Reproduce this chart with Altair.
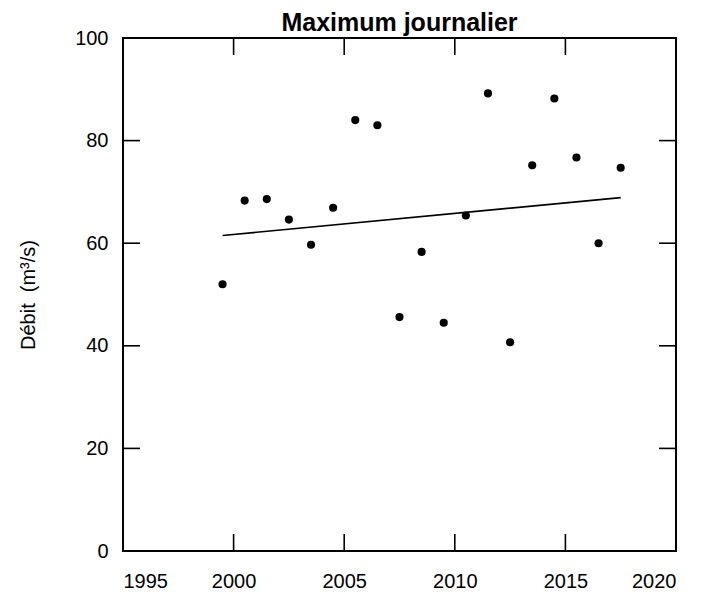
import altair as alt
import pandas as pd

# Data
title_text = ["Maximum journalier"]
years = [1999.5, 2000.5, 2001.5, 2002.5, 2003.5, 2004.5, 2005.5, 2006.5, 2007.5,
         2008.5, 2009.5, 2010.5, 2011.5, 2012.5, 2013.5, 2014.5, 2015.5, 2016.5, 2017.5]
debit = [52.0, 68.3, 68.6, 64.6, 59.7, 66.9, 84.0, 83.0, 45.6,
         58.3, 44.5, 65.4, 89.2, 40.7, 75.2, 88.2, 76.7, 60.0, 74.7]
trend_x = [1999.5, 2017.5]
trend_y = [61.5, 68.9]
x_ticks = [1995, 2000, 2005, 2010, 2015, 2020]
y_ticks = [0, 20, 40, 60, 80, 100]
x_inner_ticks = [2000, 2005, 2010, 2015]
y_inner_ticks = [20, 40, 60, 80]

W, H = 553, 513
FONT = "Liberation Sans"
TICK = 17

pts = pd.DataFrame({"x": years, "y": debit})
trend = pd.DataFrame({"x": trend_x, "y": trend_y})
xt = pd.DataFrame({"x": x_inner_ticks})
yt = pd.DataFrame({"y": y_inner_ticks})
tt = pd.DataFrame({"t": title_text})

x_enc = alt.X("x:Q", scale=alt.Scale(domain=[1995, 2020], nice=False, zero=False),
              axis=alt.Axis(values=x_ticks, format="d", ticks=False, domain=False, grid=False,
                            labelPadding=20, title=None))
y_enc = alt.Y("y:Q", scale=alt.Scale(domain=[0, 100], nice=False),
              axis=alt.Axis(values=y_ticks, ticks=False, domain=False, grid=False,
                            labelPadding=15, title="Débit\u00a0 (m³/s)", titlePadding=36))

points = alt.Chart(pts).mark_circle(size=66, color="black", opacity=1).encode(x=x_enc, y=y_enc)
line = alt.Chart(trend).mark_line(color="black", strokeWidth=1.7).encode(x=x_enc, y=y_enc)

bottom_ticks = alt.Chart(xt).mark_rule(color="black", strokeWidth=1.6).encode(
    x=x_enc, y=alt.value(H), y2=alt.value(H - TICK))
top_ticks = alt.Chart(xt).mark_rule(color="black", strokeWidth=1.6).encode(
    x=x_enc, y=alt.value(0), y2=alt.value(TICK))
left_ticks = alt.Chart(yt).mark_rule(color="black", strokeWidth=1.6).encode(
    y=y_enc, x=alt.value(0), x2=alt.value(TICK))
right_ticks = alt.Chart(yt).mark_rule(color="black", strokeWidth=1.6).encode(
    y=y_enc, x=alt.value(W), x2=alt.value(W - TICK))

title = alt.Chart(tt).mark_text(font=FONT, fontSize=25, fontWeight="bold", color="black",
                                align="center", baseline="alphabetic").encode(
    text="t:N", x=alt.value(W / 2), y=alt.value(-7))

chart = alt.layer(bottom_ticks, top_ticks, left_ticks, right_ticks, line, points, title).properties(
    width=W, height=H,
    autosize=alt.AutoSizeParams(type="none"),
    padding={"left": 115, "top": 30, "right": 18, "bottom": 39},
).configure(
    background="white"
).configure_view(
    stroke="black", strokeWidth=2
).configure_axis(
    labelFont=FONT, labelFontSize=20, labelColor="black",
    titleFont=FONT, titleFontSize=20, titleColor="black", titleFontWeight="normal",
)

chart.save("out.html", embed_options={"renderer": "svg", "actions": False})
